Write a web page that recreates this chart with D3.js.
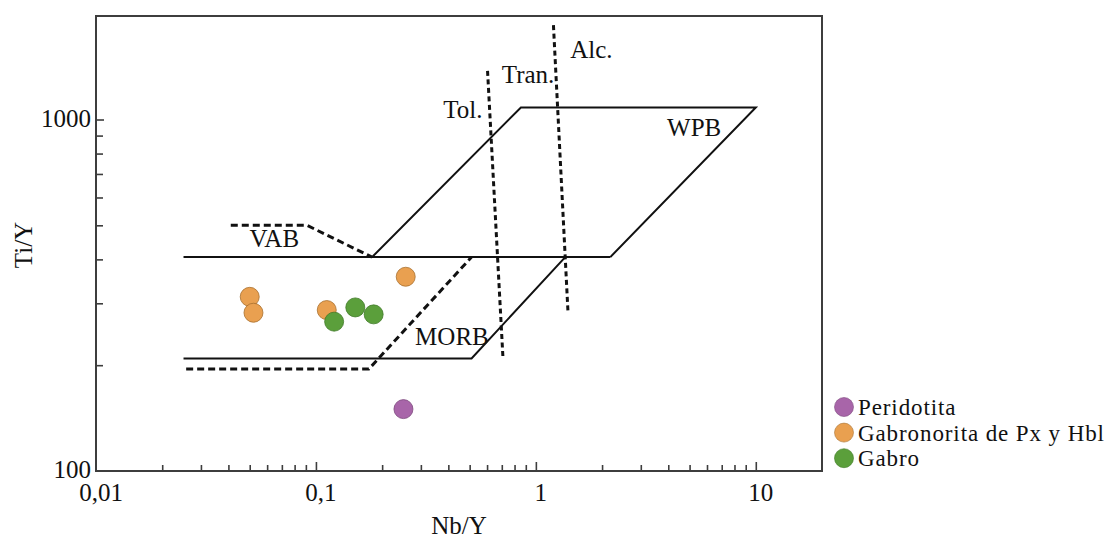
<!DOCTYPE html>
<html>
<head>
<meta charset="utf-8">
<script src="https://cdn.jsdelivr.net/npm/d3@7/dist/d3.min.js"></script>
<style>
  html, body { margin: 0; padding: 0; background: #fff; }
  text { font-family: "Liberation Serif", "Times New Roman", serif; fill: #111; }
</style>
</head>
<body>
<svg id="chart" width="1119" height="540"></svg>
<script>
// ---------------- data ----------------
const seriesNames = ["Peridotita", "Gabronorita de Px y Hbl", "Gabro"];
const seriesColors = ["#a865a9", "#e9a050", "#5b9f3b"];
const seriesStroke = ["#7d4a7e", "#a8702f", "#3f7a27"];

const peridotitaNbY = [0.25];
const peridotitaTiY = [150];
const gabronoritaNbY = [0.050, 0.052, 0.112, 0.256];
const gabronoritaTiY = [313, 282, 287, 357];
const gabroNbY = [0.121, 0.151, 0.183];
const gabroTiY = [266, 292, 279];

const xDomain = [0.01, 20];
const yDomain = [100, 1970];
const xTickValues = [0.01, 0.1, 1, 10];
const xTickLabels = ["0,01", "0,1", "1", "10"];
const yTickValues = [100, 1000];
const yTickLabels = ["100", "1000"];

// field boundaries (Nb/Y, Ti/Y)
const solidBoundaries = [
  [[0.025, 406], [2.18, 406]],
  [[0.025, 209], [0.51, 209], [1.36, 406]],
  [[0.18, 406], [0.855, 1082], [10, 1082], [2.18, 406]]
];
const dashedBoundaries = [
  [[0.041, 500], [0.091, 500], [0.18, 406]],
  [[0.0257, 195], [0.174, 195], [0.51, 406]]
];
const dottedBoundaries = [
  [[0.603, 1375], [0.708, 212]],
  [[1.202, 1855], [1.40, 283]]
];
const fieldLabels = ["Tol.", "Tran.", "Alc.", "WPB", "VAB", "MORB"];
const fieldLabelNbY = [0.379, 0.70, 1.432, 3.95, 0.0499, 0.2825];
const fieldLabelTiY = [1013, 1271, 1501, 896, 434, 228];

// ---------------- layout ----------------
const margin = { left: 96, top: 16 };
const W = 726, H = 455;
const svg = d3.select("#chart");
const g = svg.append("g").attr("transform", `translate(${margin.left},${margin.top})`);

const x = d3.scaleLog().domain(xDomain).range([0, W]);
const y = d3.scaleLog().domain(yDomain).range([H, 0]);

// minor ticks
const xMinor = x.ticks().filter(v => !xTickValues.some(t => Math.abs(t - v) < 1e-9) && v < xDomain[1] * 0.95);
const yMinor = y.ticks().filter(v => !yTickValues.some(t => Math.abs(t - v) < 1e-9));

function styleAxis(sel) {
  sel.select(".domain").remove();
  sel.selectAll(".tick line").attr("stroke", "#3d3d3d").attr("stroke-width", 1.6);
}
g.append("g").attr("transform", `translate(0,${H})`)
  .call(d3.axisBottom(x).tickValues(xMinor).tickSize(-6).tickFormat(""))
  .call(styleAxis);
g.append("g").attr("transform", `translate(0,${H})`)
  .call(d3.axisBottom(x).tickValues(xTickValues.filter(v => v > xDomain[0])).tickSize(-9).tickFormat(""))
  .call(styleAxis);
g.append("g")
  .call(d3.axisLeft(y).tickValues(yMinor).tickSize(-7).tickFormat(""))
  .call(styleAxis);
g.append("g")
  .call(d3.axisLeft(y).tickValues(yTickValues.filter(v => v > yDomain[0])).tickSize(-8).tickFormat(""))
  .call(styleAxis);

// tick labels
g.selectAll(".xlab").data(xTickValues).enter().append("text")
  .attr("class", "xlab")
  .attr("x", d => x(d) + 5)
  .attr("y", H + 30)
  .attr("text-anchor", "middle")
  .attr("font-size", 25)
  .text((d, i) => xTickLabels[i]);
g.selectAll(".ylab").data(yTickValues).enter().append("text")
  .attr("class", "ylab")
  .attr("x", -5)
  .attr("y", d => y(d) + 7)
  .attr("text-anchor", "end")
  .attr("font-size", 25)
  .text((d, i) => yTickLabels[i]);

// frame
g.append("rect").attr("x", 0).attr("y", 0).attr("width", W).attr("height", H)
  .attr("fill", "none").attr("stroke", "#3d3d3d").attr("stroke-width", 2);

// axis titles
g.append("text").attr("x", W / 2).attr("y", H + 63)
  .attr("text-anchor", "middle").attr("font-size", 25).text("Nb/Y");
g.append("text").attr("transform", `translate(${-64},${229}) rotate(-90)`)
  .attr("text-anchor", "middle").attr("font-size", 25).text("Ti/Y");

// boundaries
const line = d3.line().x(d => x(d[0])).y(d => y(d[1]));
g.selectAll(".solid").data(solidBoundaries).enter().append("path")
  .attr("d", line).attr("fill", "none").attr("stroke", "#111").attr("stroke-width", 2)
  .attr("stroke-linejoin", "miter");
g.selectAll(".dashed").data(dashedBoundaries).enter().append("path")
  .attr("d", line).attr("fill", "none").attr("stroke", "#111").attr("stroke-width", 3)
  .attr("stroke-dasharray", "7,4");
g.selectAll(".dotted").data(dottedBoundaries).enter().append("path")
  .attr("d", line).attr("fill", "none").attr("stroke", "#111").attr("stroke-width", 3)
  .attr("stroke-dasharray", "5,3.5");

// field labels
g.selectAll(".flab").data(fieldLabels).enter().append("text")
  .attr("x", (d, i) => x(fieldLabelNbY[i]))
  .attr("y", (d, i) => y(fieldLabelTiY[i]))
  .attr("font-size", 25)
  .text(d => d);

// points
const series = [
  { xs: peridotitaNbY, ys: peridotitaTiY },
  { xs: gabronoritaNbY, ys: gabronoritaTiY },
  { xs: gabroNbY, ys: gabroTiY }
];
series.forEach((s, si) => {
  g.selectAll(".pt" + si).data(s.xs).enter().append("circle")
    .attr("cx", d => x(d))
    .attr("cy", (d, i) => y(s.ys[i]))
    .attr("r", 9.5)
    .attr("fill", seriesColors[si])
    .attr("stroke", seriesStroke[si])
    .attr("stroke-width", 0.8);
});

// legend
const legend = svg.append("g").attr("transform", "translate(844,407)");
seriesNames.forEach((name, i) => {
  const row = legend.append("g").attr("transform", `translate(0,${i * 25.6})`);
  row.append("circle").attr("r", 9.5).attr("fill", seriesColors[i])
    .attr("stroke", seriesStroke[i]).attr("stroke-width", 0.6);
  row.append("text").attr("x", 14).attr("y", 8).attr("font-size", 23)
    .attr("letter-spacing", 0.9).text(name);
});
</script>
</body>
</html>
